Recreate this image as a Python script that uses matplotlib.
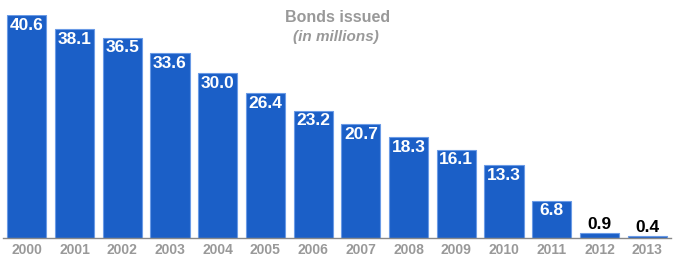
import matplotlib
matplotlib.use("Agg")
import matplotlib.pyplot as plt
from matplotlib import transforms

years = ["2000", "2001", "2002", "2003", "2004", "2005", "2006",
         "2007", "2008", "2009", "2010", "2011", "2012", "2013"]
values = [40.6, 38.1, 36.5, 33.6, 30.0, 26.4, 23.2, 20.7, 18.3, 16.1, 13.3, 6.8, 0.9, 0.4]

plt.rcParams['font.family'] = ['Liberation Sans', 'DejaVu Sans']

W, H = 676, 256
fig = plt.figure(figsize=(W / 100, H / 100), dpi=100)
ax = fig.add_axes([3 / W, 18 / H, 668 / W, 223 / H])

x = list(range(len(years)))
bars = ax.bar(x, values, width=0.82, color="#1b5fc7", edgecolor="#6b9be6", linewidth=0.8)

ax.set_xlim(-0.5, len(years) - 0.5)
ax.set_ylim(0, max(values))
for s in ["top", "right", "left"]:
    ax.spines[s].set_visible(False)
ax.spines["bottom"].set_color("#888888")
ax.spines["bottom"].set_linewidth(1.0)
ax.set_yticks([])
ax.set_xticks(x)
ax.set_xticklabels(years, color="#999999", fontsize=10, fontweight="bold")
ax.tick_params(axis="x", length=0, pad=3.5)
fig.patch.set_facecolor("white")

for xi, v in zip(x, values):
    if v > 3:
        off = transforms.offset_copy(ax.transData, fig=fig, x=0, y=-2, units="points")
        ax.text(xi, v, f"{v:.1f}", transform=off, ha="center", va="top",
                color="white", fontsize=12.5, fontweight="bold")
    else:
        off = transforms.offset_copy(ax.transData, fig=fig, x=0, y=0.5, units="points")
        ax.text(xi, v, f"{v:.1f}", transform=off, ha="center", va="bottom",
                color="black", fontsize=12.5, fontweight="bold")

fig.text(338 / W, 1 - 17 / H, "Bonds issued", ha="center", va="center",
         color="#999999", fontsize=11.5, fontweight="bold")
fig.text(336 / W, 1 - 37 / H, "(in millions)", ha="center", va="center",
         color="#999999", fontsize=11, fontweight="bold", style="italic")

fig.savefig("out.png", dpi=100)
